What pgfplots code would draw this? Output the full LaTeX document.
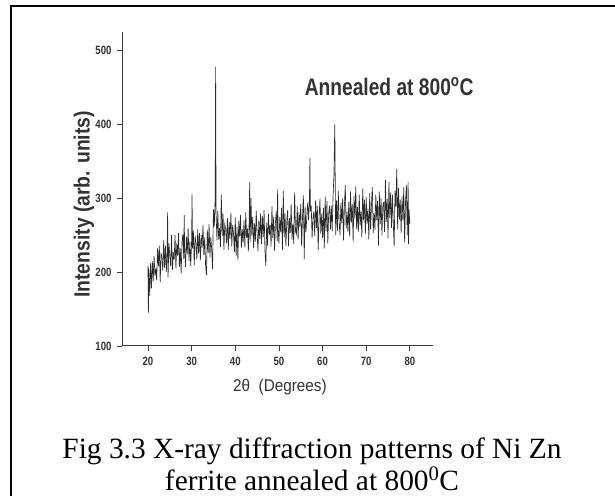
\documentclass[border=0pt]{standalone}
\usepackage{fontspec}
\setmainfont{Liberation Serif}
\newfontfamily\ticksf[FakeStretch=0.8]{Liberation Sans}
\newfontfamily\ylabsf[FakeStretch=0.88]{Liberation Sans}
\newfontfamily\xlabsf[FakeStretch=0.9]{Liberation Sans}
\newfontfamily\annsf[FakeStretch=0.8]{Liberation Sans}
\usepackage{pgfplots}
\usepackage{pgfplotstable}
\pgfplotsset{compat=1.18}
\definecolor{axisgray}{HTML}{3C3C3C}
\definecolor{plotgray}{HTML}{2A2A2A}
\definecolor{textgray}{HTML}{333333}

\pgfplotstableread{
x y
20.0 208
20.1 145
20.2 205
20.4 168
20.6 212
20.8 178
21.0 215
21.2 188
21.4 222
21.6 195
21.8 205
22.0 189
22.2 232
22.4 208
22.6 236
22.8 186
23.0 226
23.2 219
23.4 202
23.6 243
23.8 206
24.0 236
24.2 200
24.4 228
24.5 281
24.6 193
24.8 239
25.0 222
25.2 208
25.4 250
25.6 203
25.8 227
26.0 217
26.2 250
26.4 205
26.6 239
26.8 222
27.0 253
27.2 207
27.4 232
27.6 198
27.8 241
28.0 251
28.2 218
28.3 277
28.4 232
28.6 207
28.8 248
29.0 224
29.2 260
29.4 215
29.6 242
29.8 208
30.0 243
30.1 305
30.2 232
30.4 256
30.6 209
30.8 249
31.0 239
31.2 217
31.4 258
31.6 225
31.8 253
32.0 216
32.2 250
32.4 233
32.6 264
32.8 223
33.0 247
33.2 209
33.4 196
33.6 257
33.8 226
34.0 265
34.2 220
34.4 247
34.6 231
34.8 204
35.0 285
35.2 262
35.4 300
35.5 478
35.6 280
35.8 243
36.0 283
36.2 244
36.4 260
36.6 234
36.8 305
37.0 249
37.2 279
37.4 230
37.6 265
37.8 258
38.0 239
38.2 273
38.4 230
38.6 268
38.8 245
39.0 280
39.2 235
39.4 264
39.6 252
39.8 227
40.0 274
40.2 222
40.4 261
40.6 216
40.8 269
41.0 248
41.2 277
41.4 233
41.6 258
41.8 240
42.0 270
42.2 233
42.4 281
42.6 246
42.8 259
43.0 228
43.2 273
43.3 322
43.4 240
43.6 300
43.8 249
44.0 275
44.2 232
44.4 266
44.6 241
44.8 283
45.0 253
45.2 228
45.4 270
45.6 245
45.8 279
46.0 238
46.2 276
46.4 247
46.6 284
46.8 229
47.0 208
47.2 267
47.4 236
47.6 279
47.8 250
48.0 264
48.2 235
48.4 289
48.6 246
48.8 275
49.0 229
49.2 267
49.4 283
49.6 242
49.7 312
49.8 261
50.0 239
50.2 274
50.4 254
50.6 287
50.8 230
51.0 310
51.2 247
51.4 279
51.6 235
51.8 268
52.0 284
52.2 235
52.4 273
52.6 253
52.8 292
53.0 244
53.2 266
53.4 238
53.6 308
53.8 255
54.0 251
54.2 289
54.4 244
54.6 281
54.8 261
55.0 292
55.2 235
55.4 274
55.6 304
55.8 218
56.0 289
56.2 254
56.4 277
56.6 294
56.8 270
57.0 300
57.1 355
57.2 282
57.4 290
57.6 246
57.8 273
58.0 282
58.2 249
58.4 297
58.6 260
58.8 290
59.0 230
59.2 274
59.4 299
59.6 252
59.8 279
60.0 246
60.2 287
60.4 232
60.6 302
60.8 255
61.0 296
61.2 239
61.4 279
61.6 290
61.8 258
62.0 290
62.2 255
62.4 303
62.6 330
62.8 400
63.0 250
63.2 297
63.4 256
63.6 310
63.8 267
64.0 250
64.2 294
64.4 266
64.6 300
64.8 243
65.0 289
65.2 318
65.4 259
65.6 282
65.8 254
66.0 295
66.2 248
66.4 309
66.6 267
66.8 292
67.0 241
67.2 303
67.4 272
67.6 316
67.8 258
68.0 288
68.2 254
68.4 305
68.6 263
68.8 282
69.0 247
69.2 313
69.4 270
69.6 298
69.8 251
70.0 301
70.2 265
70.4 286
70.6 244
70.8 307
71.0 258
71.2 291
71.4 315
71.6 253
71.8 280
72.0 257
72.2 305
72.4 270
72.6 296
72.8 236
73.0 309
73.2 265
73.4 300
73.6 250
73.8 288
74.0 295
74.2 254
74.4 325
74.6 268
74.8 299
75.0 246
75.2 322
75.4 273
75.6 308
75.8 260
76.0 305
76.2 266
76.4 235
76.6 310
76.8 288
77.0 340
77.2 258
77.4 314
77.6 271
77.8 298
78.0 253
78.2 302
78.4 270
78.6 315
78.8 240
79.0 295
79.2 318
79.4 250
79.6 322
79.7 238
79.8 285
80.0 265
}\xrd

\begin{document}
\begin{tikzpicture}
\useasboundingbox (0,0) rectangle (615pt,495pt);
\fill[white] (0,0) rectangle (615pt,495pt);
\draw[line width=2.5pt, black] (11pt,-2pt) -- (11pt,489pt) -- (617pt,489pt);
\begin{axis}[
  at={(122pt,149pt)}, anchor=south west,
  scale only axis, width=311pt, height=314pt,
  xmin=14.05, xmax=85.3, ymin=100, ymax=525,
  axis x line=bottom, axis y line=left,
  axis line style={-, line width=1pt, color=axisgray},
  tick align=outside,
  major tick length=5pt,
  tick style={line width=0.8pt, color=axisgray},
  xtick={20,30,...,80}, ytick={100,200,...,500},
  minor tick num=0,
  /pgf/number format/assume math mode=true,
  ticklabel style={font=\ticksf\bfseries\fontsize{12}{14}\selectfont, text=textgray},
  xticklabel style={yshift=-3pt},
  yticklabel style={xshift=-2pt},
  xlabel={2θ\ \ (Degrees)},
  ylabel={Intensity (arb. units)},
  every axis x label/.style={at={(axis description cs:0.508,-0.131)}, anchor=center, font=\xlabsf\fontsize{17}{20}\selectfont, text=textgray},
  every axis y label/.style={at={(axis description cs:-0.122,0.451)}, anchor=center, rotate=90, font=\ylabsf\bfseries\fontsize{22}{26}\selectfont, text=textgray},
  clip=false,
]
\addplot[color=plotgray, line width=0.65pt] table[x=x, y=y] {\xrd};
\node[font=\annsf\bfseries\fontsize{24}{28}\selectfont, text=textgray, anchor=center] at (axis description cs:0.859,0.825) {Annealed at 800\textsuperscript{o}C};
\end{axis}
\node[font=\fontsize{29.4}{32}\selectfont, anchor=base, inner sep=0pt] at (312pt,37pt) {Fig 3.3 X-ray diffraction patterns of Ni Zn};
\node[font=\fontsize{29.4}{32}\selectfont, anchor=base, inner sep=0pt] at (312pt,5pt) {ferrite annealed at 800\textsuperscript{0}C};
\end{tikzpicture}
\end{document}
